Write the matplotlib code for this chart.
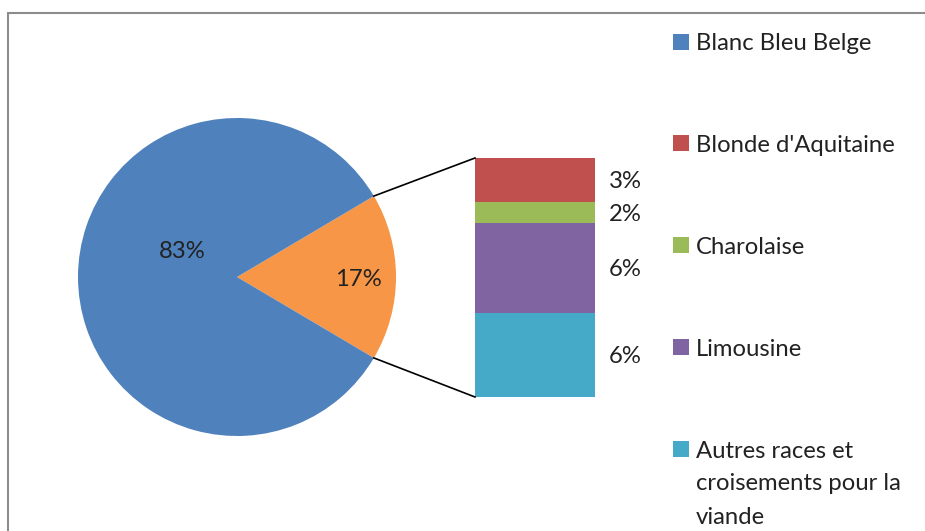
import matplotlib
matplotlib.use("Agg")
import matplotlib.pyplot as plt
from matplotlib.patches import Rectangle
import numpy as np

# ---- data ----
main_label = "Blanc Bleu Belge"
main_value = 83.0
sub_labels = ["Blonde d'Aquitaine", "Charolaise", "Limousine",
              "Autres races et\ncroisements pour la\nviande"]
sub_values = [3.1, 1.5, 6.4, 6.0]
sub_text = ["3%", "2%", "6%", "6%"]
main_text = ["83%", "17%"]

blue = "#4F81BD"
orange = "#F79646"
sub_colors = ["#C0504D", "#9BBB59", "#8064A2", "#44AAC7"]

FONT = "Lato"
FS = 17.2
TXT = "#222222"

W, H = 925, 531
fig = plt.figure(figsize=(W / 100, H / 100), dpi=100)
ax = fig.add_axes([0, 0, 1, 1])


def Y(p):
    return H - p


# ---- pie ----
cx, cy, r = 237, Y(277), 159
other = sum(sub_values)
total = main_value + other
half = other / total * 180.0
wedges, _ = ax.pie([other, main_value], colors=[orange, blue],
                   startangle=-half, center=(cx, cy), radius=r,
                   counterclock=True, wedgeprops=dict(linewidth=0),
                   frame=True)
ax.set_xlim(0, W)
ax.set_ylim(0, H)
ax.set_aspect("equal")
ax.axis("off")

ax.text(182, Y(250), main_text[0], ha="center", va="center_baseline",
        fontsize=FS, family=FONT, color=TXT)
ax.text(358, Y(278), main_text[1], ha="center", va="center_baseline",
        fontsize=FS, family=FONT, color=TXT)

# ---- stacked bar ----
bar_left, bar_w = 475, 120
bar_top, bar_bot = Y(158), Y(397)
scale = (bar_top - bar_bot) / other
top = bar_top
for v, c, t in zip(sub_values, sub_colors, sub_text):
    h = v * scale
    ax.bar(bar_left + bar_w / 2, h, bottom=top - h, width=bar_w, color=c,
           linewidth=0)
    ax.text(bar_left + bar_w + 14, top - h / 2, t, ha="left",
            va="center_baseline", fontsize=FS, family=FONT, color=TXT)
    top -= h

# ---- connector lines ----
w0 = wedges[0]
t1, t2 = np.deg2rad(w0.theta1), np.deg2rad(w0.theta2)
ax.plot([cx + r * np.cos(t2), bar_left], [cy + r * np.sin(t2), bar_top],
        color="black", lw=1.2)
ax.plot([cx + r * np.cos(t1), bar_left], [cy + r * np.sin(t1), bar_bot],
        color="black", lw=1.2)

# ---- legend ----
leg_labels = [main_label] + sub_labels
leg_colors = [blue] + sub_colors
leg_y = [42, 143, 245, 347, 449]
for lab, col, yy in zip(leg_labels, leg_colors, leg_y):
    ax.add_patch(Rectangle((673, Y(yy) - 8), 16, 16, color=col, lw=0))
    for k, line in enumerate(lab.split("\n")):
        ax.text(696, Y(yy + 33 * k), line, ha="left", va="center_baseline",
                fontsize=FS, family=FONT, color=TXT)

# ---- chart frame ----
ax.plot([8, 8, W + 10], [Y(H + 10), Y(13), Y(13)], color="#8c8c8c",
        lw=1.5, solid_joinstyle="miter")

fig.savefig("out.png", dpi=100)
